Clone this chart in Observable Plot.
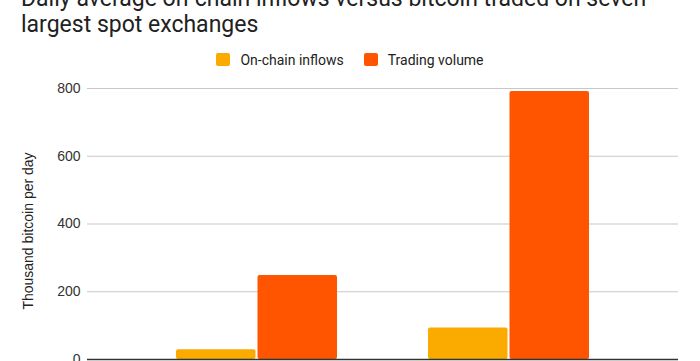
<!DOCTYPE html>
<html>
<head>
<meta charset="utf-8">
<script src="https://cdn.jsdelivr.net/npm/d3@7"></script>
<script src="https://cdn.jsdelivr.net/npm/@observablehq/plot@0.6"></script>
<style>
  html, body { margin: 0; padding: 0; background: #fff; }
  body { width: 700px; height: 361px; position: relative; overflow: hidden; }
  #title { position: absolute; left: 21px; top: -13.6px; font-family: Roboto, sans-serif; font-size: 23px; line-height: 26px; color: #212121; white-space: nowrap; }
  #legend { position: absolute; left: 0; top: 43px; width: 700px; }
  #legend .lg-swatches { justify-content: center; font-family: Roboto, sans-serif !important; font-size: 14px !important; color: #222 !important; margin: 0 !important; }
  #legend .lg-swatch { margin-right: 20px !important; }
  #legend .lg-swatch:last-child { margin-right: 0 !important; }
  #legend .lg-swatch > svg { margin-right: 10px !important; }
  #legend .lg-swatch rect { rx: 2px; }
  #chart { position: absolute; left: 0; top: 0; }
</style>
</head>
<body>
<div id="chart"></div>
<div id="title"></div>
<div id="legend"></div>
<script>
const titleLines = ["Daily average on-chain inflows versus bitcoin traded on seven", "largest spot exchanges"];
const categories = ["Group 1", "Group 2"];
const series = ["On-chain inflows", "Trading volume"];
const inflows = [29, 93];
const volume = [248, 791];
const yTicks = [0, 200, 400, 600, 800];
const yLabel = "Thousand bitcoin per day";
const colors = ["#fbab00", "#ff5500"];

const rows = categories.flatMap((c, i) => [
  {category: c, series: series[0], value: inflows[i]},
  {category: c, series: series[1], value: volume[i]}
]);

document.getElementById("title").innerHTML = titleLines.map(t => t.replace(/&/g, "&amp;")).join("<br>");

document.getElementById("legend").appendChild(Plot.legend({
  color: {domain: series, range: colors},
  legend: "swatches",
  swatchWidth: 14,
  swatchHeight: 13,
  className: "lg"
}));

const chart = Plot.plot({
  width: 700,
  height: 361,
  marginTop: 88,
  marginBottom: 2,
  marginLeft: 87,
  marginRight: 22,
  style: {fontFamily: "'Liberation Sans', Arial, sans-serif", fontSize: "14px", color: "#333", background: "transparent", overflow: "visible"},
  x: {domain: categories, paddingInner: 0.362, paddingOuter: 0.351, axis: null},
  y: {domain: [0, 800], axis: null},
  color: {domain: series, range: colors},
  marks: [
    Plot.gridY(yTicks, {stroke: "#c8c8c8", strokeOpacity: 1, strokeWidth: 1.2}),
    Plot.axisY(yTicks, {tickSize: 0, tickPadding: 7, label: null, fill: "#333", fontSize: 14}),
    Plot.barY(rows.filter(d => d.series === series[0]), {x: "category", y: "value", fill: "series", insetRight: 81.5, rx: 2}),
    Plot.barY(rows.filter(d => d.series === series[1]), {x: "category", y: "value", fill: "series", insetLeft: 81.5, rx: 2}),
    Plot.ruleY([0], {stroke: "#333", strokeWidth: 1.3}),
    Plot.text([yLabel], {frameAnchor: "left", textAnchor: "middle", rotate: -90, dx: -58.5, dy: 7, fontSize: 14, fill: "#222"})
  ]
});
document.getElementById("chart").appendChild(chart);
</script>
</body>
</html>
